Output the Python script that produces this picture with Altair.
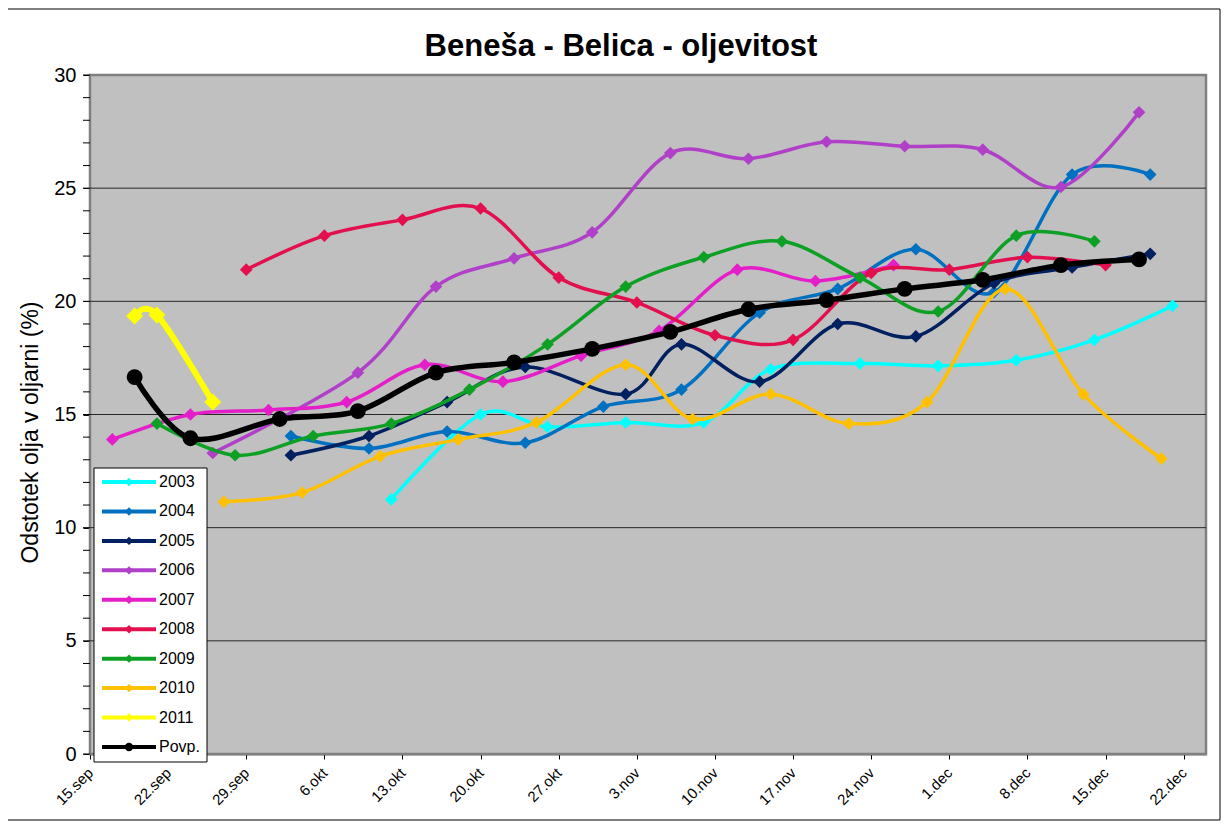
import altair as alt
import pandas as pd

# ---------------- data (day offsets counted from 15.sep) ----------------
NAMES = ["2003", "2004", "2005", "2006", "2007", "2008", "2009", "2010", "2011", "Povp."]
COLORS = ["#00FFFF", "#0070C0", "#002060", "#B040C8", "#E41EC8", "#E3104F",
          "#0EA024", "#FFC000", "#FFFF00", "#000000"]
SHAPES = ["diamond"] * 9 + ["circle"]

DAYS_2003 = [27, 35, 41, 48, 55, 61, 69, 76, 83, 90, 97]
VAL_2003 = [11.25, 15.0, 14.45, 14.65, 14.65, 17.0, 17.25, 17.15, 17.4, 18.3, 19.8]

DAYS_2004 = [18, 25, 32, 39, 46, 53, 60, 67, 74, 81, 88, 95]
VAL_2004 = [14.05, 13.5, 14.25, 13.75, 15.35, 16.1, 19.5, 20.55, 22.3, 20.4, 25.6, 25.6]

DAYS_2005 = [18, 25, 32, 39, 48, 53, 60, 67, 74, 81, 88, 95]
VAL_2005 = [13.2, 14.05, 15.55, 17.1, 15.9, 18.1, 16.45, 19.0, 18.45, 20.8, 21.5, 22.1]

DAYS_2006 = [11, 24, 31, 38, 45, 52, 59, 66, 73, 80, 87, 94]
VAL_2006 = [13.3, 16.85, 20.65, 21.9, 23.05, 26.55, 26.3, 27.05, 26.85, 26.7, 25.05, 28.35]

DAYS_2007 = [2, 9, 16, 23, 30, 37, 44, 51, 58, 65, 72]
VAL_2007 = [13.9, 15.0, 15.2, 15.55, 17.2, 16.45, 17.6, 18.7, 21.4, 20.9, 21.6]

DAYS_2008 = [14, 21, 28, 35, 42, 49, 56, 63, 70, 77, 84, 91]
VAL_2008 = [21.4, 22.9, 23.6, 24.1, 21.05, 19.95, 18.5, 18.3, 21.25, 21.4, 21.95, 21.6]

DAYS_2009 = [6, 13, 20, 27, 34, 41, 48, 55, 62, 69, 76, 83, 90]
VAL_2009 = [14.6, 13.2, 14.05, 14.6, 16.1, 18.1, 20.65, 21.95, 22.65, 21.05, 19.55, 22.9, 22.65]

DAYS_2010 = [12, 19, 26, 33, 40, 48, 54, 61, 68, 75, 82, 89, 96]
VAL_2010 = [11.15, 11.55, 13.15, 13.9, 14.65, 17.2, 14.8, 15.9, 14.6, 15.55, 20.55, 15.9, 13.05]

DAYS_2011 = [4, 6, 11]
VAL_2011 = [19.35, 19.4, 15.55]

DAYS_POVP = [4, 9, 17, 24, 31, 38, 45, 52, 59, 66, 73, 80, 87, 94]
VAL_POVP = [16.65, 13.95, 14.8, 15.15, 16.85, 17.3, 17.9, 18.65, 19.65, 20.05, 20.55, 20.95, 21.6, 21.85]

TICK_DAYS = [0, 7, 14, 21, 28, 35, 42, 49, 56, 63, 70, 77, 84, 91, 98]
TICK_LABELS = ["15.sep", "22.sep", "29.sep", "6.okt", "13.okt", "20.okt", "27.okt", "3.nov",
               "10.nov", "17.nov", "24.nov", "1.dec", "8.dec", "15.dec", "22.dec"]
Y_TICKS = [0, 5, 10, 15, 20, 25, 30]
Y_GRID = [5, 10, 15, 20, 25]
Y_MINOR = [0, 1, 2, 3, 4, 5, 6, 7, 8, 9, 10, 11, 12, 13, 14, 15, 16, 17, 18, 19, 20,
           21, 22, 23, 24, 25, 26, 27, 28, 29, 30]

TITLE = "Beneša - Belica - oljevitost"
Y_TITLE = "Odstotek olja v oljarni (%)"
FONT = "Liberation Sans"

SERIES = [
    (DAYS_2003, VAL_2003), (DAYS_2004, VAL_2004), (DAYS_2005, VAL_2005),
    (DAYS_2006, VAL_2006), (DAYS_2007, VAL_2007), (DAYS_2008, VAL_2008),
    (DAYS_2009, VAL_2009), (DAYS_2010, VAL_2010), (DAYS_2011, VAL_2011),
    (DAYS_POVP, VAL_POVP),
]

# ---------------- scales / axes ----------------
W, H = 1116, 679
x_scale = alt.Scale(domain=[0, 100], nice=False, zero=False)
y_scale = alt.Scale(domain=[0, 30], nice=False, zero=False)

label_expr = "[" + ",".join("'%s'" % t for t in TICK_LABELS) + "][round(datum.value/7)]"
x_axis = alt.Axis(values=TICK_DAYS, labelExpr=label_expr, labelAngle=315, labelAlign="right",
                  labelBaseline="middle", labelFontSize=15, labelPadding=11, tickSize=5,
                  tickColor="black", domainColor="black", domainWidth=1.5, grid=False,
                  title=None, labelColor="black", labelFont=FONT)
y_axis = alt.Axis(values=Y_TICKS, labelFontSize=20, labelPadding=7, tickSize=7, tickColor="black",
                  domainColor="black", domainWidth=1.5, grid=False, title=Y_TITLE,
                  titleFontSize=23, titleFontWeight="normal", titleX=-60, titleY=357,
                  titleAngle=270, titleAlign="center", titleBaseline="middle",
                  labelColor="black", titleColor="black", labelFont=FONT, titleFont=FONT)

one = pd.DataFrame({"a": [0]})
main_layers = []

plot_bg = alt.Chart(one).mark_rect(fill="#C0C0C0", stroke="#808080", strokeWidth=2.5).encode(
    x=alt.value(0), x2=alt.value(W), y=alt.value(0), y2=alt.value(H))
main_layers.append(plot_bg)

grid = alt.Chart(pd.DataFrame({"v": Y_GRID})).mark_rule(color="#262626", strokeWidth=1).encode(
    y=alt.Y("v:Q", scale=y_scale, axis=y_axis))
main_layers.append(grid)

minor = alt.Chart(pd.DataFrame({"v": Y_MINOR})).mark_rule(color="black", strokeWidth=1).encode(
    y=alt.Y("v:Q", scale=y_scale, axis=y_axis), x=alt.value(-7), x2=alt.value(0))
main_layers.append(minor)

for i, (days, vals) in enumerate(SERIES):
    name = NAMES[i]
    color = COLORS[i]
    if name == "Povp.":
        width, size = 5.5, 250
    elif name == "2011":
        width, size = 6.0, 290
    else:
        width, size = 3.5, 160
    df = pd.DataFrame({"d": days, "v": vals})
    base = alt.Chart(df).encode(
        x=alt.X("d:Q", scale=x_scale, axis=x_axis),
        y=alt.Y("v:Q", scale=y_scale, axis=y_axis))
    main_layers.append(base.mark_line(interpolate="cardinal", color=color, strokeWidth=width))
    main_layers.append(base.mark_point(shape=SHAPES[i], filled=True, color=color, size=size, opacity=1))

main = alt.layer(*main_layers)

# ---------------- legend, title, frame ----------------
leg_df = pd.DataFrame({"series": NAMES})
leg_y = alt.Y("series:N", scale=alt.Scale(type="point", domain=NAMES, range=[407, 672], padding=0), axis=None)
leg_color = alt.Color("series:N", scale=alt.Scale(domain=NAMES, range=COLORS), legend=None)

frame = alt.Chart(one).mark_rect(fill="transparent", stroke="black", strokeWidth=1).encode(
    x=alt.value(-83), x2=alt.value(W + 14), y=alt.value(-66), y2=alt.value(H + 66))
box = alt.Chart(one).mark_rect(fill="white", stroke="black", strokeWidth=1).encode(
    x=alt.value(4), x2=alt.value(117), y=alt.value(393), y2=alt.value(687))
leg_rules = alt.Chart(leg_df).mark_rule(strokeWidth=4).encode(
    y=leg_y, x=alt.value(12), x2=alt.value(66), color=leg_color)
leg_pts = alt.Chart(leg_df).mark_point(filled=True, size=70, opacity=1).encode(
    y=leg_y, x=alt.value(39), color=leg_color,
    shape=alt.Shape("series:N", scale=alt.Scale(domain=NAMES, range=SHAPES), legend=None))
leg_text = alt.Chart(leg_df).mark_text(align="left", baseline="middle", fontSize=16, font=FONT,
                                       color="black").encode(
    y=leg_y, x=alt.value(69), text="series:N")
title = alt.Chart(one).mark_text(align="center", baseline="alphabetic", fontSize=31, fontWeight="bold",
                                 font=FONT, color="black").encode(
    x=alt.value(531), y=alt.value(-19), text=alt.value(TITLE))

overlay = alt.layer(frame, box, leg_rules, leg_pts, leg_text, title)

chart = alt.layer(main, overlay).resolve_scale(x="independent", y="independent").properties(
    width=W, height=H,
    autosize=alt.AutoSizeParams(type="none"),
    padding={"left": 82, "top": 67, "right": 17, "bottom": 70},
).configure_view(fill="#C0C0C0", stroke="#808080", strokeWidth=2).configure(font=FONT)

chart.save("out.html", embed_options={"renderer": "svg", "actions": False})
